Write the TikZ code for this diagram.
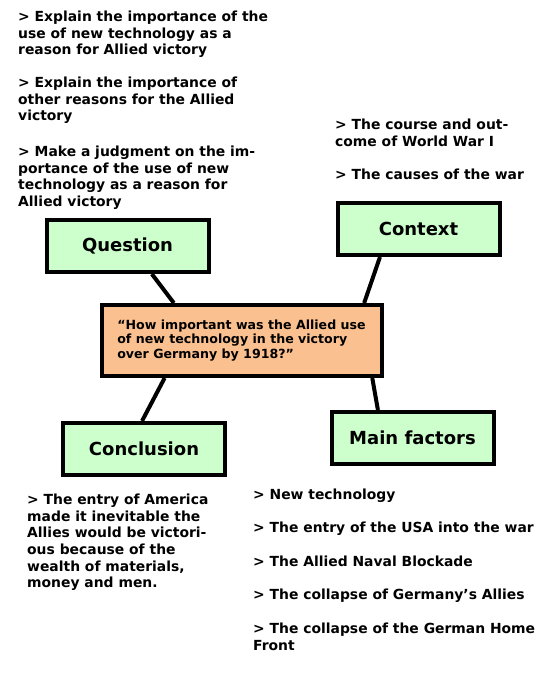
\documentclass[tikz,border=0pt]{standalone}
\usepackage{fontspec}
\setmainfont{DejaVu Sans}
\usetikzlibrary{positioning}
\definecolor{heading}{RGB}{204,255,204}
\definecolor{enquiry}{RGB}{250,192,143}

\begin{document}
\begin{tikzpicture}[x=1pt, y=-1pt,
    box/.style={draw, rectangle, line width=4pt, fill=heading, minimum width=162pt, minimum height=52pt, inner sep=0pt, font=\bfseries\fontsize{18}{21}\selectfont},
    notes/.style={anchor=north west, align=left, inner sep=0pt, font=\bfseries\fontsize{13.9}{16.6}\selectfont},
    link/.style={line width=4pt}]
    \useasboundingbox (0,0) rectangle (546,693);

    \node[box] (question) at (127.5,246) {Question};
    \node[box] (context) at (418.5,229) {Context};
    \node[draw, rectangle, line width=4pt, fill=enquiry, minimum width=280pt, minimum height=71pt, inner sep=0pt, align=left, font=\bfseries\fontsize{12.6}{14.6}\selectfont] (enquiry) at (241.5,340.5) {“How important was the Allied use\\of new technology in the victory\\over Germany by 1918?”};
    \node[box] (conclusion) at (144,449) {Conclusion};
    \node[box] (factors) at (412.5,438) {Main factors};

    % notes round the boxes
    \node[notes] (aim1) at (18,11) {> Explain the importance of the\\use of new technology as a\\reason for Allied victory};
    \node[notes] (aim2) at (18,77) {> Explain the importance of\\other reasons for the Allied\\victory};
    \node[notes] (aim3) at (18,146) {> Make a judgment on the im-\\portance of the use of new\\technology as a reason for\\Allied victory};
    \node[notes] (ctx1) at (335,119) {> The course and out-\\come of World War I};
    \node[notes] (ctx2) at (335,169) {> The causes of the war};
    \node[notes] (verdict) at (27,494) {> The entry of America\\made it inevitable the\\Allies would be victori-\\ous because of the\\wealth of materials,\\money and men.};
    \node[notes] (fac1) at (253,489) {> New technology};
    \node[notes] (fac2) at (253,522) {> The entry of the USA into the war};
    \node[notes] (fac3) at (253,556) {> The Allied Naval Blockade};
    \node[notes] (fac4) at (253,589) {> The collapse of Germany’s Allies};
    \node[notes] (fac5) at (253,623) {> The collapse of the German Home\\Front};

    \draw[link] (question.-49) -- (enquiry.151);
    \draw[link] (context.-144) -- (enquiry.17);
    \draw[link] (enquiry.-154.5) -- (conclusion.94);
    \draw[link] (enquiry.-16) -- (factors.141);
\end{tikzpicture}
\end{document}
